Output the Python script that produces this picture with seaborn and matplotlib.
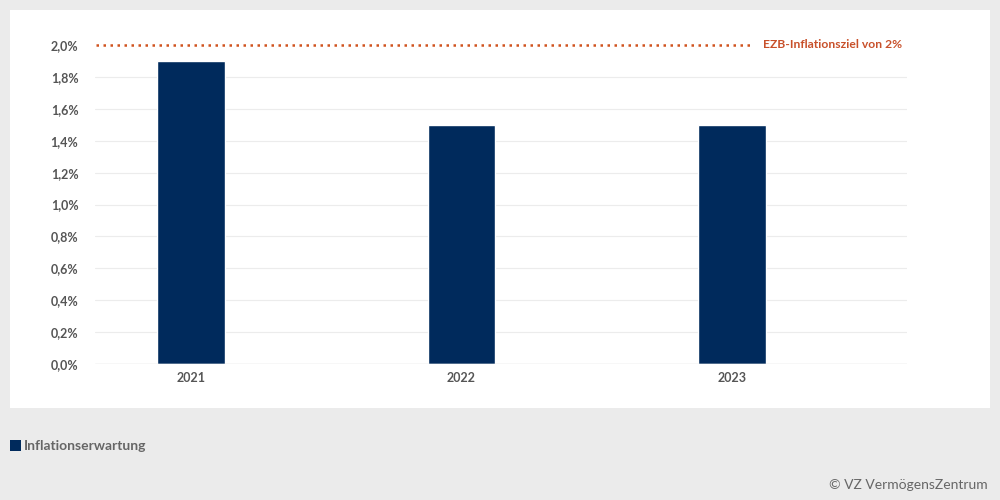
import pandas as pd
import seaborn as sns
import matplotlib.pyplot as plt
from matplotlib.patches import Rectangle

years = ["2021", "2022", "2023"]
values = [1.9, 1.5, 1.5]
target = 2.0
yticks = [0.0, 0.2, 0.4, 0.6, 0.8, 1.0, 1.2, 1.4, 1.6, 1.8, 2.0]

df = pd.DataFrame({"Jahr": years, "Inflationserwartung": values})

sns.set_style("white")
plt.rcParams["font.family"] = ["Lato", "DejaVu Sans"]

fig = plt.figure(figsize=(10, 5), dpi=100)
fig.patch.set_facecolor("#ebebeb")

# white chart panel
fig.patches.append(Rectangle(
    (0.01, 0.184), 0.98, 0.796,
    transform=fig.transFigure,
    facecolor="white",
    edgecolor="none",
    zorder=-10
))

ax = fig.add_axes([0.095, 0.272, 0.812, 0.638])
ax.set_facecolor("none")

sns.barplot(
    data=df,
    x="Jahr",
    y="Inflationserwartung",
    color="#002a5c",
    width=0.25,
    saturation=1,
    ax=ax,
    zorder=3
)

ax.set_xlim(-0.355, 2.647)
ax.set_ylim(0, 2.0)
ax.set_yticks(yticks)
ax.set_yticklabels(
    [f"{v:.1f}%".replace(".", ",") for v in yticks],
    fontsize=9, fontweight="bold", color="#555555"
)
ax.set_xticks(range(len(years)))
ax.set_xticklabels(years, fontsize=9, fontweight="bold", color="#555555")
ax.tick_params(axis="y", length=0, pad=12)
ax.tick_params(axis="x", length=0, pad=6)

for v in yticks[1:-1]:
    ax.axhline(v, color="#ececec", linewidth=0.8, zorder=1)
ax.axhline(0, color="#d9d9d9", linewidth=1, zorder=4)

for s in ax.spines.values():
    s.set_visible(False)

ax.set_xlabel("")
ax.set_ylabel("")

# EZB target line
ax.plot(
    [-0.35, 2.08], [target, target],
    color="#d0531f",
    linestyle=(0, (1, 1.8)),
    linewidth=1.8,
    clip_on=False,
    zorder=5
)
ax.text(
    2.115, target, "EZB-Inflationsziel von 2%",
    color="#c8502a", fontsize=8.7, fontweight="bold",
    va="center", ha="left"
)

# legend
fig.patches.append(Rectangle(
    (0.01, 0.098), 0.011, 0.022,
    transform=fig.transFigure,
    facecolor="#002a5c", edgecolor="none"
))
fig.text(
    0.024, 0.109, "Inflationserwartung",
    fontsize=10, fontweight="bold", color="#666666",
    va="center", ha="left"
)

fig.text(
    0.988, 0.03, "© VZ VermögensZentrum",
    fontsize=10, color="#666666",
    va="center", ha="right"
)

plt.savefig("out.png", dpi=100, facecolor=fig.get_facecolor())
